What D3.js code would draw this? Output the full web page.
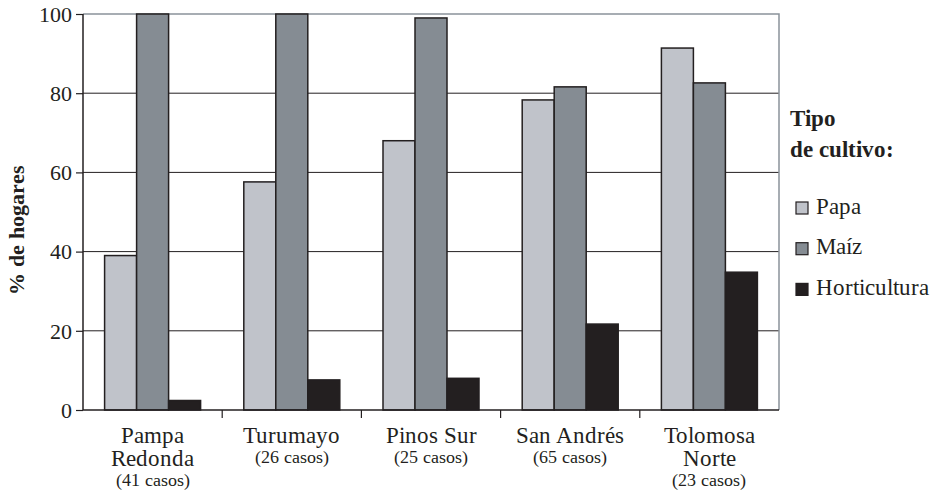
<!DOCTYPE html>
<html><head><meta charset="utf-8">
<script src="https://cdn.jsdelivr.net/npm/d3@7"></script>
<style>
@font-face{font-family:"ChartSerif";font-weight:400;src:local("Liberation Serif"),local("LiberationSerif"),local("Times New Roman");}
@font-face{font-family:"ChartSerif";font-weight:700;src:local("Liberation Serif Bold"),local("LiberationSerif-Bold"),local("Times New Roman Bold");}
html,body{margin:0;padding:0;background:#fff;}
</style></head>
<body><svg id="c" width="941" height="494"></svg>
<script>
const categories = [["Pampa","Redonda"],["Turumayo"],["Pinos Sur"],["San Andrés"],["Tolomosa","Norte"]];
const casos = ["(41 casos)","(26 casos)","(25 casos)","(65 casos)","(23 casos)"];
const seriesNames = ["Papa","Maíz","Horticultura"];
const papa = [39, 57.6, 68, 78.3, 91.4];
const maiz = [100, 100, 99, 81.6, 82.6];
const horticultura = [2.4, 7.6, 8, 21.7, 34.8];
const yTicks = [0, 20, 40, 60, 80, 100];
const colors = ["#c0c3ca", "#858c93", "#231f20"];

const FONT = "ChartSerif, Liberation Serif, serif";
const series = [papa, maiz, horticultura];
const svg = d3.select("#c");
const m = {left:83, right:779, top:14, bottom:410};
const ids = d3.range(categories.length);
const x = d3.scaleBand().domain(ids).range([m.left, m.right]).paddingInner(0).paddingOuter(0);
const inner = d3.scaleBand().domain(d3.range(3)).range([0, 96]);
const y = d3.scaleLinear().domain([0,100]).range([m.bottom, m.top]);

function txt(sel){ return sel.append("text").attr("font-family", FONT).attr("fill", "#231f20"); }

// gridlines
svg.append("g").selectAll("line").data(yTicks.filter(d=>d>0 && d<100)).join("line")
  .attr("x1", m.left).attr("x2", m.right).attr("y1", d=>y(d)).attr("y2", d=>y(d))
  .attr("stroke", "#231f20").attr("stroke-width", 1);
// top + right border (gray)
svg.append("path").attr("d", `M${m.left},${y(100)}H${m.right}V${m.bottom}`)
  .attr("fill","none").attr("stroke","#8a939b").attr("stroke-width",1.5);

// bars
const g = svg.append("g");
ids.forEach(i => {
  const off = x(i) + (x.bandwidth() - 96) / 2;
  series.forEach((s, j) => {
    g.append("rect")
      .attr("x", off + inner(j)).attr("width", inner.bandwidth())
      .attr("y", y(s[i])).attr("height", y(0) - y(s[i]))
      .attr("fill", colors[j]).attr("stroke", "#231f20").attr("stroke-width", 1.5);
  });
});

// y axis
const yAxis = d3.axisLeft(y).tickValues(yTicks).tickSize(7).tickPadding(4);
const ya = svg.append("g").attr("transform", `translate(${m.left},0)`).call(yAxis)
  .attr("font-family", FONT).attr("font-size", 22);
ya.select(".domain").attr("stroke","#231f20").attr("stroke-width",1.5).attr("d", `M0,${y(100)}V${m.bottom}`);
ya.selectAll(".tick line").attr("stroke","#231f20").attr("stroke-width",1.2);
ya.selectAll(".tick text").attr("font-size", 22).attr("font-family", FONT)
  .attr("fill","#231f20").attr("dy","0.33em");

// x axis baseline
const xa = svg.append("g").attr("transform", `translate(0,${m.bottom})`);
xa.append("line").attr("x1", m.left).attr("x2", m.right).attr("stroke","#231f20").attr("stroke-width",1.5);
xa.selectAll("line.t").data(ids.slice(1)).join("line").attr("class","t")
  .attr("x1", d=>x(d)).attr("x2", d=>x(d)).attr("y1",0).attr("y2",8)
  .attr("stroke","#231f20").attr("stroke-width",1.2);

// category labels
ids.forEach(i => {
  const cx = x(i) + x.bandwidth()/2;
  const lines = categories[i];
  lines.forEach((t, k) => {
    txt(svg).attr("x", cx).attr("y", 443 + k*23).attr("text-anchor","middle")
      .attr("font-size", 23).text(t);
  });
  txt(svg).attr("x", cx).attr("y", lines.length > 1 ? 486 : 463).attr("text-anchor","middle")
    .attr("font-size", 18).text(casos[i]);
});

// y title
txt(svg).attr("transform", `translate(24,${230}) rotate(-90)`).attr("text-anchor","middle")
  .attr("font-size", 22).attr("font-weight","bold").text("% de hogares");

// legend
txt(svg).attr("x", 790).attr("y", 126).attr("font-size", 23).attr("font-weight","bold").text("Tipo");
txt(svg).attr("x", 790).attr("y", 157).attr("font-size", 23).attr("font-weight","bold").text("de cultivo:");
seriesNames.forEach((n, j) => {
  const yy = 202 + j*40.7;
  svg.append("rect").attr("x", 796).attr("y", yy).attr("width", 12).attr("height", 12)
    .attr("fill", colors[j]).attr("stroke","#231f20").attr("stroke-width",1.2);
  txt(svg).attr("x", 816).attr("y", yy + 11.5).attr("font-size", 23).text(n);
});
</script></body></html>
